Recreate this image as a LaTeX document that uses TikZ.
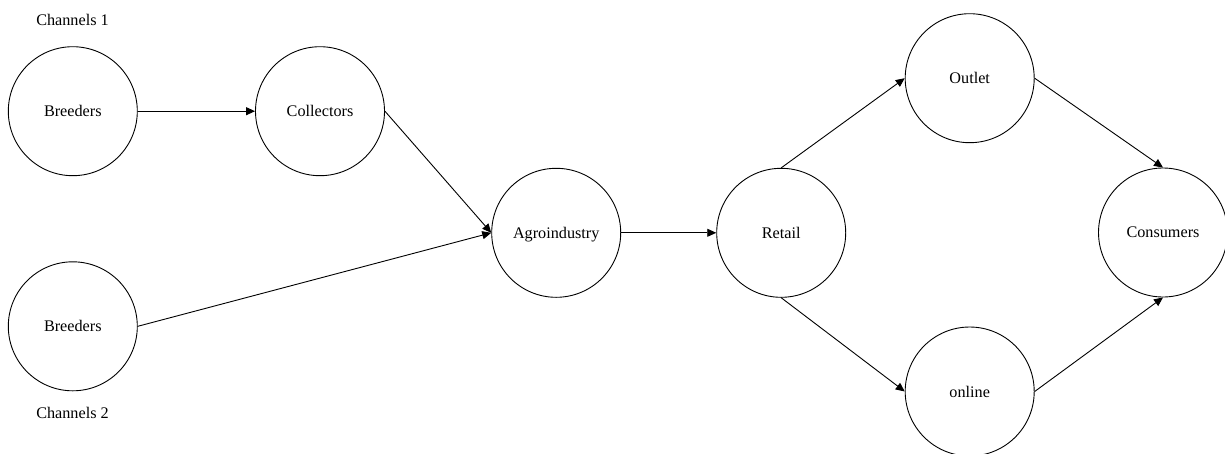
\documentclass[tikz,border=0pt]{standalone}
\usepackage{fontspec}
\setmainfont{Liberation Serif}
\usetikzlibrary{arrows.meta}
\begin{document}
\begin{tikzpicture}[x=1pt,y=-1pt,
  circ/.style={draw,circle,line width=0.9pt,minimum size=129pt,inner sep=0pt,font=\fontsize{16.2}{19}\selectfont},
  lbl/.style={font=\fontsize{16.2}{19}\selectfont,inner sep=0pt},
  edge/.style={line width=0.9pt,-{Triangle[length=9pt,width=8pt]}}]
\clip (0,0) rectangle (1225,453);
\fill[white] (0,0) rectangle (1225,453);
\node[lbl] (ch1) at (72.5,20) {Channels 1};
\node[lbl] (ch2) at (72.5,413) {Channels 2};
\node[circ] (b1) at (72.8,111.2) {Breeders};
\node[circ] (col) at (320,111.2) {Collectors};
\node[circ] (b2) at (72.8,326.3) {Breeders};
\node[circ] (agro) at (556.2,232.8) {\raisebox{0pt}[11pt][0pt]{Agroindustry}};
\node[circ] (ret) at (781.2,232.8) {Retail};
\node[circ] (out) at (969.7,78.2) {Outlet};
\node[circ] (onl) at (969.7,391.5) {online};
\node[circ] (con) at (1163,232.5) {Consumers};
\draw[edge] (b1.east) -- (col.west);
\draw[edge] (col.east) -- (agro.west);
\draw[edge] (b2.east) -- (agro.west);
\draw[edge] (agro.east) -- (ret.west);
\draw[edge] (ret.north) -- (out.west);
\draw[edge] (ret.south) -- (onl.west);
\draw[edge] (out.east) -- (con.north);
\draw[edge] (onl.east) -- (con.south);
\end{tikzpicture}
\end{document}
